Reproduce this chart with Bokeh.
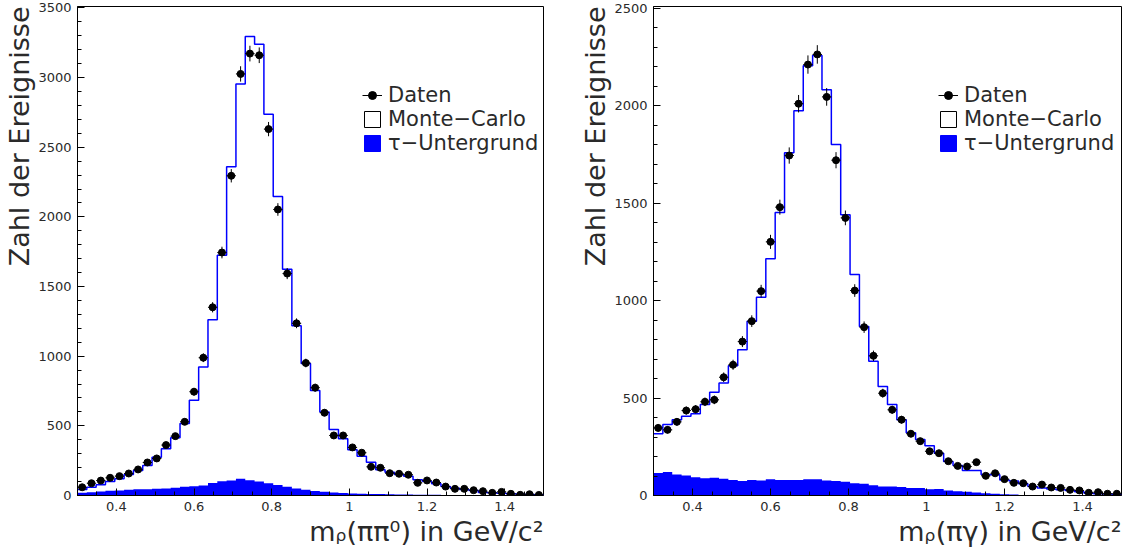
import numpy as np
from bokeh.plotting import figure
from bokeh.layouts import row
from bokeh.models import (Range1d, SingleIntervalTicker, CustomJSTickFormatter,
                          Title, Legend, LegendItem)
from bokeh.embed import file_html
from bokeh.resources import INLINE

# ---------------- data ----------------
x_min, x_max, n_bins = 0.3, 1.5, 50

# left panel: m_rho(pi pi0)
data_pipi0 = [59, 88, 107, 127, 139, 158, 187, 237, 266, 362,
              426, 529, 745, 989, 1351, 1744, 2295, 3026, 3172, 3160,
              2630, 2053, 1593, 1236, 951, 774, 594, 431, 431, 345,
              307, 206, 199, 160, 156, 149, 91, 108, 93, 64,
              48, 48, 38, 31, 19, 26, 12, 5, 9, 4]
mc_pipi0 = [43, 60, 77, 100, 120, 151, 179, 215, 275, 335,
            414, 517, 683, 922, 1262, 1725, 2359, 2954, 3294, 3239,
            2736, 2146, 1624, 1219, 948, 754, 599, 474, 407, 328,
            282, 239, 185, 167, 151, 139, 113, 103, 84, 64,
            52, 43, 36, 21, 19, 16, 12, 10, 7, 5]
bg_pipi0 = [19, 24, 29, 34, 36, 41, 45, 45, 48, 50,
            55, 62, 67, 72, 89, 103, 108, 120, 109, 101,
            88, 75, 63, 51, 41, 33, 27, 22, 18, 15,
            13, 11, 10, 9, 8, 7, 6, 5, 5, 4,
            4, 3, 3, 2, 2, 2, 1, 1, 1, 1]

# right panel: m_rho(pi gamma)
data_pigamma = [347, 337, 378, 436, 443, 481, 491, 607, 671, 790,
                895, 1049, 1302, 1480, 1745, 2011, 2212, 2264, 2046, 1721,
                1425, 1052, 864, 717, 525, 440, 389, 317, 279, 227,
                217, 176, 152, 149, 171, 101, 114, 84, 65, 63,
                46, 56, 41, 39, 29, 26, 14, 17, 9, 9]
mc_pigamma = [317, 364, 389, 407, 419, 467, 530, 578, 666, 748,
              895, 1018, 1215, 1453, 1759, 1975, 2206, 2259, 2083, 1802,
              1441, 1134, 867, 689, 560, 467, 389, 322, 287, 255,
              217, 175, 154, 128, 128, 108, 106, 80, 74, 60,
              46, 39, 33, 29, 26, 19, 12, 9, 8, 5]
bg_pigamma = [115, 120, 108, 103, 94, 89, 91, 86, 80, 74,
              80, 77, 84, 80, 79, 80, 84, 84, 77, 74,
              70, 63, 60, 53, 46, 46, 43, 39, 38, 32,
              34, 26, 22, 19, 15, 12, 9, 7, 5, 3,
              3, 2, 2, 1, 1, 1, 0, 0, 0, 0]

y_title = "Zahl der Ereignisse"
x_title_left = "mᵨ(ππ⁰) in GeV/c²"
x_title_right = "mᵨ(πγ) in GeV/c²"
legend_labels = ["Daten", "Monte−Carlo", "τ−Untergrund"]

BLUE = "#0000ff"
FONT = "DejaVu Sans"
TXT = "#2a2a2a"


def make_panel(data, mc, bg, ymax, xtitle, width, bl, br):
    edges = np.linspace(x_min, x_max, n_bins + 1)
    centers = 0.5 * (edges[:-1] + edges[1:])
    d = np.array(data, dtype=float)
    err = np.sqrt(d)

    p = figure(width=width, height=552,
               x_range=Range1d(x_min, x_max), y_range=Range1d(0, ymax),
               min_border_left=bl, min_border_right=br,
               min_border_top=6, min_border_bottom=57,
               output_backend="svg", toolbar_location=None,
               background_fill_color="white", border_fill_color="white")
    p.xgrid.visible = False
    p.ygrid.visible = False
    p.outline_line_color = "black"
    p.outline_line_width = 1

    p.xaxis.ticker = SingleIntervalTicker(interval=0.2, num_minor_ticks=4)
    p.yaxis.ticker = SingleIntervalTicker(interval=500, num_minor_ticks=5)
    p.xaxis.formatter = CustomJSTickFormatter(
        code="return String(Math.round(tick*1000)/1000);")
    for ax in (p.xaxis[0], p.yaxis[0]):
        ax.major_tick_in = 7
        ax.major_tick_out = 0
        ax.minor_tick_in = 4
        ax.minor_tick_out = 0
        ax.axis_line_color = "black"
        ax.major_tick_line_color = "black"
        ax.minor_tick_line_color = "black"
        ax.major_label_text_font = FONT
        ax.major_label_text_font_size = "13px"
        ax.major_label_text_color = TXT
        ax.major_label_standoff = 6

    # tau background (filled histogram)
    p.varea_step(x=edges, y1=np.zeros(n_bins + 1), y2=list(bg) + [bg[-1]],
                 step_mode="after", fill_color=BLUE)
    # Monte-Carlo (step outline)
    p.step(x=edges, y=list(mc) + [mc[-1]], mode="after",
           line_color=BLUE, line_width=1.5)
    # data with error bars
    p.segment(x0=centers, x1=centers, y0=d - err, y1=d + err,
              line_color="black", line_width=1)
    p.segment(x0=edges[:-1], x1=edges[1:], y0=d, y1=d,
              line_color="black", line_width=1)
    p.scatter(x=centers, y=d, size=7, marker="circle",
              fill_color="black", line_color="black")

    # legend-only renderers (NaN coordinates, never drawn inside the plot)
    nan = [np.nan]
    l_line = p.segment(x0=nan, y0=nan, x1=nan, y1=nan, line_color="black", line_width=1)
    l_dot = p.scatter(x=nan, y=nan, marker="circle", fill_color="black", line_color="black")
    l_mc = p.quad(left=nan, right=nan, bottom=nan, top=nan, fill_color="white",
                  line_color="black", line_width=1)
    l_bg = p.quad(left=nan, right=nan, bottom=nan, top=nan, fill_color=BLUE,
                  line_color=BLUE)
    legend = Legend(items=[LegendItem(label=legend_labels[0], renderers=[l_line, l_dot]),
                           LegendItem(label=legend_labels[1], renderers=[l_mc]),
                           LegendItem(label=legend_labels[2], renderers=[l_bg])],
                    location=(285, 340), glyph_width=20, glyph_height=20,
                    label_standoff=6, padding=0, spacing=0, margin=0,
                    border_line_color=None, background_fill_alpha=0,
                    label_text_font=FONT, label_text_font_size="21px",
                    label_text_color=TXT, label_height=23)
    p.add_layout(legend)

    p.add_layout(Title(text=xtitle, align="right", standoff=1,
                       text_font=FONT, text_font_size="27px",
                       text_font_style="normal", text_color=TXT), "below")
    p.add_layout(Title(text=y_title, align="right", standoff=2,
                       text_font=FONT, text_font_size="27px",
                       text_font_style="normal", text_color=TXT), "left")
    return p


p1 = make_panel(data_pipi0, mc_pipi0, bg_pipi0, 3510, x_title_left, 560, 75, 17)
p2 = make_panel(data_pigamma, mc_pigamma, bg_pigamma, 2510, x_title_right, 565, 93, 4)

layout = row(p1, p2)
open("out.html", "w").write(file_html(layout, INLINE))
